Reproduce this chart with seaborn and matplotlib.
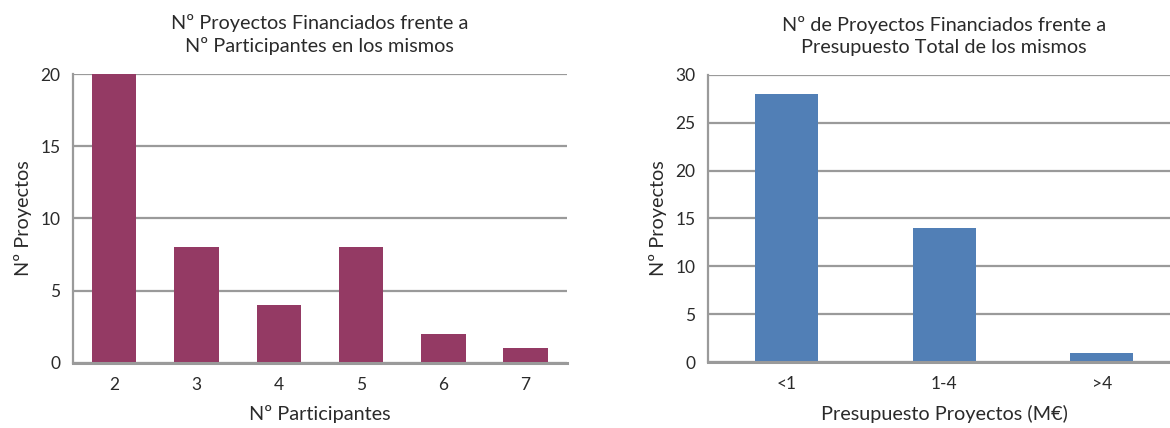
# Two bar charts: projects vs participants and projects vs budget
import numpy as np
import pandas as pd
import matplotlib
matplotlib.use("Agg")
import matplotlib.pyplot as plt
import seaborn as sns

# data
participantes = ["2", "3", "4", "5", "6", "7"]
proyectos_part = [20, 8, 4, 8, 2, 1]

presupuesto = ["<1", "1-4", ">4"]
proyectos_pres = [28, 14, 1]

color_part = "#943a64"
color_pres = "#517fb6"
grid_col = "#9a9a9a"
txt = "#2a2a2a"

sns.set_style("white")
plt.rcParams["font.family"] = ["Lato", "DejaVu Sans"]
plt.rcParams.update({"axes.edgecolor": grid_col, "xtick.color": grid_col,
                     "ytick.color": grid_col, "text.color": txt,
                     "axes.labelcolor": txt})

fig = plt.figure(figsize=(11.7, 4.28), dpi=100)
ax1 = fig.add_axes([0.0624, 0.152, 0.422, 0.675])
ax2 = fig.add_axes([0.605, 0.154, 0.404, 0.671])

df1 = pd.DataFrame({"cat": participantes, "val": proyectos_part})
df2 = pd.DataFrame({"cat": presupuesto, "val": proyectos_pres})

sns.barplot(data=df1, x="cat", y="val", color=color_part, saturation=1,
            width=0.54, ax=ax1)
sns.barplot(data=df2, x="cat", y="val", color=color_pres, saturation=1,
            width=0.4, ax=ax2)


def style(ax, n, ymax, title, xlabel):
    ax.set_xlim(-0.5, n - 0.5)
    ax.set_ylim(0, ymax)
    ax.set_yticks(np.arange(0, ymax + 1, 5))
    ax.yaxis.grid(True, color=grid_col, linewidth=1.6)
    ax.set_axisbelow(True)
    for s in ["top", "right"]:
        ax.spines[s].set_visible(False)
    ax.spines["left"].set_linewidth(1.6)
    ax.spines["bottom"].set_linewidth(2.2)
    ax.set_xticks(np.arange(-0.5, n, 1), minor=True)
    ax.tick_params(axis="x", which="major", length=0, pad=10, labelsize=12.5,
                   labelcolor=txt)
    ax.tick_params(axis="x", which="minor", length=7, width=1.6,
                   direction="out")
    ax.tick_params(axis="y", length=6, width=1.6, labelsize=12.5, pad=3,
                   labelcolor=txt)
    ax.set_title(title, fontsize=14.3, pad=16, color=txt, linespacing=1.35)
    ax.set_xlabel(xlabel, fontsize=14.3, labelpad=9)
    ax.set_ylabel("Nº Proyectos", fontsize=14.3, labelpad=6)
    for b in ax.patches:
        b.set_linewidth(0)


style(ax1, len(participantes), 20,
      "Nº Proyectos Financiados frente a\nNº Participantes en los mismos",
      "Nº Participantes")
style(ax2, len(presupuesto), 30,
      "Nº de Proyectos Financiados frente a\nPresupuesto Total de los mismos",
      "Presupuesto Proyectos (M€)")

fig.savefig("out.png", dpi=100)
